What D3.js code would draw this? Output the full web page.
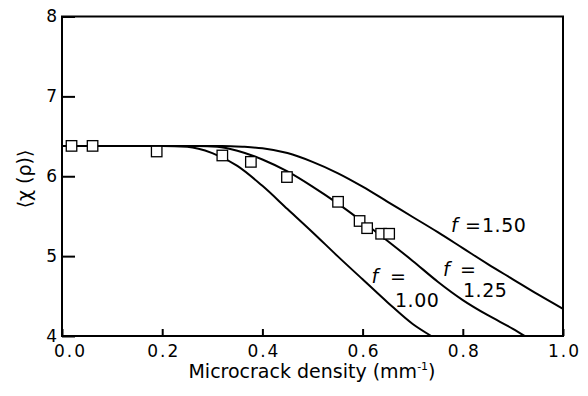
<!DOCTYPE html>
<html>
<head>
<meta charset="utf-8">
<script src="https://cdn.jsdelivr.net/npm/d3@7"></script>
<style>
  body { margin: 0; background: #fff; }
  text { font-family: 'DejaVu Sans', sans-serif; fill: #000; }
</style>
</head>
<body>
<script>
var width = 588;
var height = 396;
var margin = {top: 16.5, right: 25, bottom: 60, left: 62};

// measured points (microcrack density, <chi(rho)>)
var pointX = [0.019, 0.061, 0.189, 0.320, 0.377, 0.449, 0.551, 0.594, 0.609, 0.637, 0.653];
var pointY = [6.38, 6.38, 6.31, 6.26, 6.18, 5.99, 5.68, 5.44, 5.35, 5.28, 5.28];

// model curves
var curve100X = [0, 0.20, 0.25, 0.30, 0.35, 0.40, 0.45, 0.50, 0.55, 0.60, 0.65, 0.70, 0.737];
var curve100Y = [6.38, 6.38, 6.37, 6.29, 6.13, 5.88, 5.59, 5.30, 5.00, 4.71, 4.42, 4.15, 4.0];

var curve125X = [0, 0.27, 0.31, 0.35, 0.40, 0.45, 0.50, 0.55, 0.60, 0.65, 0.70, 0.75, 0.80, 0.85, 0.90, 0.924];
var curve125Y = [6.38, 6.38, 6.37, 6.32, 6.21, 6.06, 5.87, 5.66, 5.43, 5.19, 4.94, 4.68, 4.45, 4.26, 4.09, 4.0];

var curve150X = [0, 0.32, 0.36, 0.40, 0.45, 0.50, 0.55, 0.60, 0.65, 0.70, 0.75, 0.80, 0.85, 0.90, 0.95, 1.0];
var curve150Y = [6.38, 6.38, 6.37, 6.35, 6.29, 6.18, 6.04, 5.87, 5.68, 5.49, 5.30, 5.10, 4.90, 4.71, 4.52, 4.34];

var xTicks = [0, 0.2, 0.4, 0.6, 0.8, 1.0];
var yTicks = [4, 5, 6, 7, 8];

var svg = d3.select('body')
  .append('svg')
  .attr('width', width)
  .attr('height', height);

var xScale = d3.scaleLinear()
  .domain([0, 1])
  .range([margin.left, width - margin.right]);

var yScale = d3.scaleLinear()
  .domain([4, 8])
  .range([height - margin.bottom, margin.top]);

var xAxis = d3.axisBottom(xScale)
  .tickValues(xTicks)
  .tickFormat(d3.format('.1f'))
  .tickSizeInner(-7)
  .tickSizeOuter(0)
  .tickPadding(9);

var yAxis = d3.axisLeft(yScale)
  .tickValues(yTicks)
  .tickFormat(d3.format('d'))
  .tickSizeInner(-13)
  .tickSizeOuter(0)
  .tickPadding(5);

var gx = svg.append('g')
  .attr('transform', 'translate(0,' + (height - margin.bottom) + ')')
  .call(xAxis);

var gy = svg.append('g')
  .attr('transform', 'translate(' + margin.left + ',0)')
  .call(yAxis);

gx.select('.domain').remove();
gy.select('.domain').remove();
gx.selectAll('line').attr('stroke-width', 2);
gy.selectAll('line').attr('stroke-width', 2);
gx.selectAll('text')
  .attr('font-size', '17px')
  .attr('font-family', 'DejaVu Sans, sans-serif')
  .attr('letter-spacing', '2px')
  .attr('dx', function(d) { return d === 0 ? 8 : 1; });
gy.selectAll('text')
  .attr('font-size', '17px')
  .attr('font-family', 'DejaVu Sans, sans-serif');

// frame
svg.append('rect')
  .attr('x', xScale(0))
  .attr('y', yScale(8))
  .attr('width', xScale(1) - xScale(0))
  .attr('height', yScale(4) - yScale(8))
  .attr('fill', 'none')
  .attr('stroke', '#000')
  .attr('stroke-width', 2);

var line = d3.line()
  .x(function(d) { return xScale(d[0]); })
  .y(function(d) { return yScale(d[1]); })
  .curve(d3.curveMonotoneX);

var curves = [
  d3.zip(curve100X, curve100Y),
  d3.zip(curve125X, curve125Y),
  d3.zip(curve150X, curve150Y)
];

svg.selectAll('path.curve')
  .data(curves)
  .enter()
  .append('path')
  .attr('class', 'curve')
  .attr('d', line)
  .attr('fill', 'none')
  .attr('stroke', '#000')
  .attr('stroke-width', 2);

var sq = 10.5;
svg.selectAll('rect.pt')
  .data(d3.zip(pointX, pointY))
  .enter()
  .append('rect')
  .attr('class', 'pt')
  .attr('x', function(d) { return xScale(d[0]) - sq / 2; })
  .attr('y', function(d) { return yScale(d[1]) - sq / 2; })
  .attr('width', sq)
  .attr('height', sq)
  .attr('fill', '#fff')
  .attr('stroke', '#000')
  .attr('stroke-width', 1.3);

// curve labels: italic f, narrow "=", value
function fLabel(fx, fy, ex, vx, vy, value) {
  svg.append('text')
    .attr('x', fx)
    .attr('y', fy)
    .attr('font-size', '19px')
    .attr('font-style', 'italic')
    .text('f');
  svg.append('text')
    .attr('x', ex)
    .attr('y', fy)
    .attr('font-size', '19px')
    .attr('font-family', 'Liberation Sans, Arial, sans-serif')
    .text('=');
  svg.append('text')
    .attr('x', vx)
    .attr('y', vy)
    .attr('font-size', '19px')
    .attr('letter-spacing', '0.5px')
    .text(value);
}

fLabel(451, 232, 465, 482, 232, '1.50');
fLabel(443, 276, 460, 463, 296.5, '1.25');
fLabel(371.5, 283, 390, 395, 306.5, '1.00');

// axis titles
var xt = svg.append('text')
  .attr('x', 312)
  .attr('y', 378)
  .attr('text-anchor', 'middle')
  .attr('font-size', '19px')
  .text('Microcrack density (mm');
xt.append('tspan')
  .attr('dy', -8)
  .attr('font-size', '11px')
  .text('-1');
xt.append('tspan')
  .attr('dy', 8)
  .text(')');

svg.append('text')
  .attr('transform', 'translate(31,179) rotate(-90)')
  .attr('text-anchor', 'middle')
  .attr('font-size', '19px')
  .text('\u27E8\u03C7 (\u03C1)\u27E9');
</script>
</body>
</html>
